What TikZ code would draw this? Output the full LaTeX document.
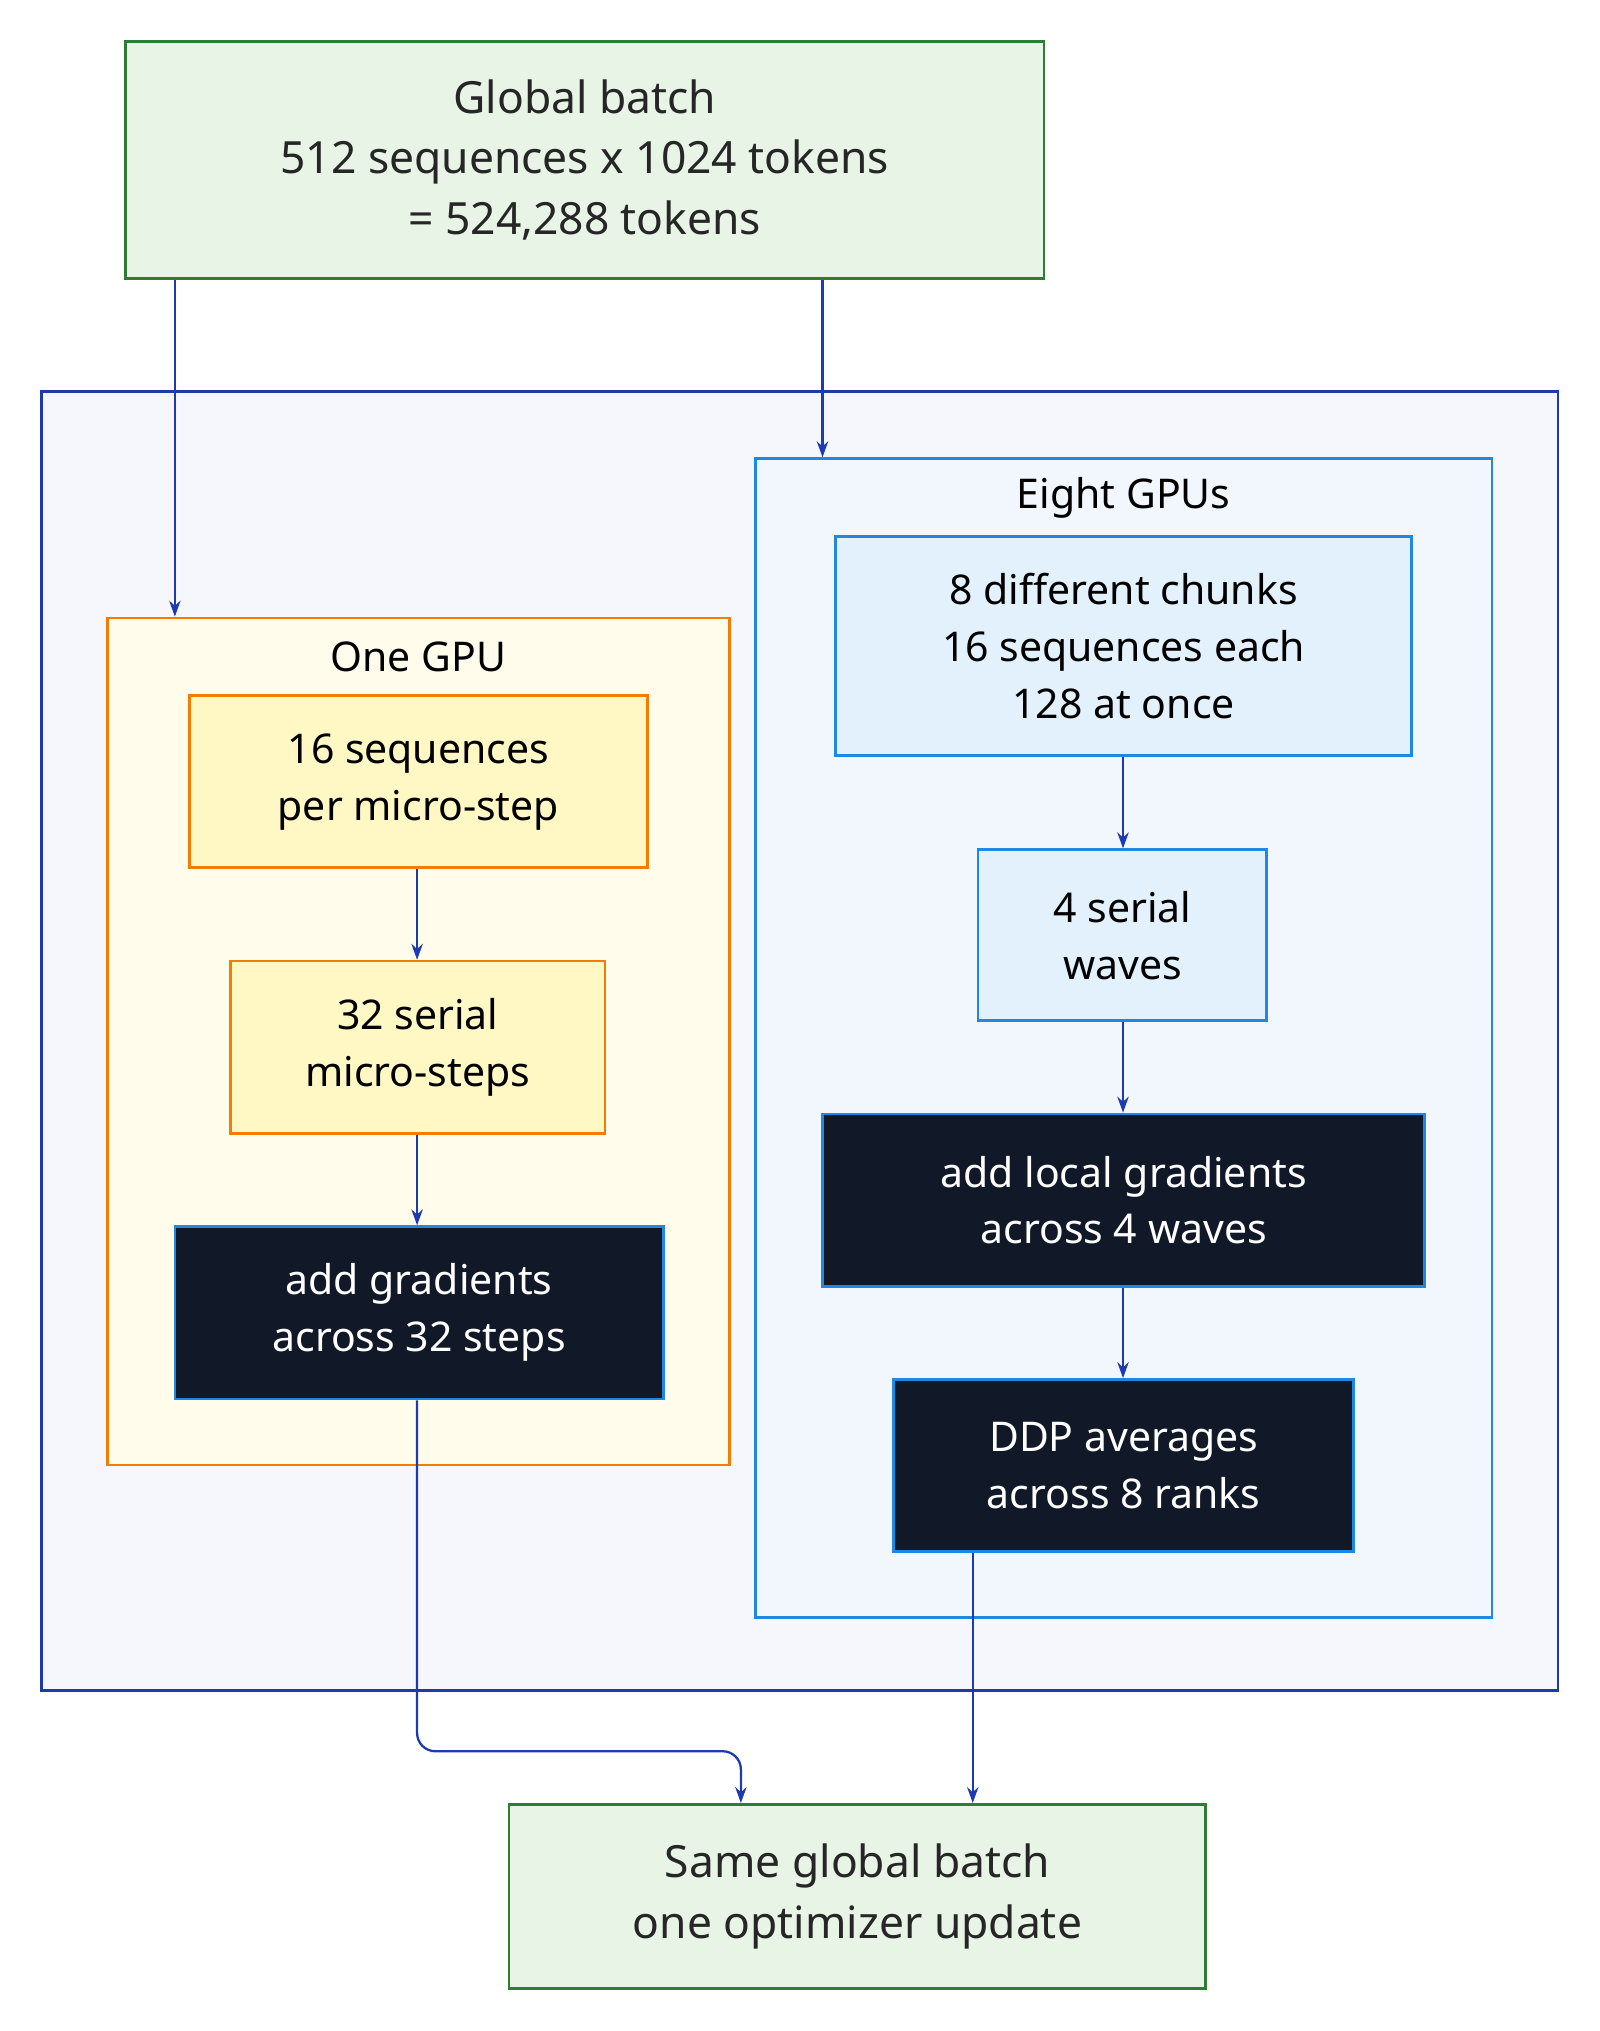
\documentclass[tikz,border=0pt]{standalone}
\usepackage{fontspec}
\setmainfont{Noto Sans}
\usetikzlibrary{arrows.meta}
\definecolor{gfill}{HTML}{E7F4E6}\definecolor{gline}{HTML}{2E7D32}
\definecolor{ofill}{HTML}{F5F7FC}\definecolor{oline}{HTML}{1E3AA8}
\definecolor{yfill}{HTML}{FFFCEC}\definecolor{yline}{HTML}{F57C00}
\definecolor{ybox}{HTML}{FFF8C4}
\definecolor{bfill}{HTML}{F2F7FD}\definecolor{bline}{HTML}{1E88E5}
\definecolor{bbox}{HTML}{E3F1FC}
\definecolor{dark}{HTML}{111827}
\definecolor{arrc}{HTML}{1E3AB0}
\tikzset{
 bx/.style={draw, line width=1.2pt, inner sep=0pt, align=center, font=\fontsize{18}{25}\selectfont},
 gbox/.style={bx, fill=gfill, draw=gline, text=black!85, font=\fontsize{19.5}{26.5}\selectfont},
 ybx/.style={bx, fill=ybox, draw=yline},
 lbx/.style={bx, fill=bbox, draw=bline},
 dbx/.style={bx, fill=dark, draw=bline, text=white},
 arr/.style={draw=arrc, line width=1pt, -{Stealth[length=7pt,width=5pt]}},
 ttl/.style={font=\fontsize{18}{22}\selectfont}
}
\begin{document}
\begin{tikzpicture}[x=0.02cm,y=-0.02cm]
\useasboundingbox (0,0) rectangle (1235,1568);
\node[draw=oline, fill=ofill, line width=1.2pt, minimum width=23.42cm, minimum height=20.06cm] (outer) at (617.5,803.5) {};
\node[draw=yline, fill=yfill, line width=1.2pt, minimum width=9.6cm, minimum height=13.08cm] (one) at (323,804) {};
\node[draw=bline, fill=bfill, line width=1.2pt, minimum width=11.38cm, minimum height=17.9cm] (eight) at (867.5,801.5) {};
\node[ttl] (onet) at (323,507) {One GPU};
\node[ttl] (eightt) at (867.5,384) {Eight GPUs};
\node[gbox, minimum width=14.18cm, minimum height=3.66cm] (top) at (451.5,123.5) {Global batch\\512 sequences x 1024 tokens\\= 524,288 tokens};
\node[ybx, minimum width=7.08cm, minimum height=2.66cm] (y1) at (323,603.5) {16 sequences\\per micro-step};
\node[ybx, minimum width=5.78cm, minimum height=2.66cm] (y2) at (322.5,808.5) {32 serial\\micro-steps};
\node[dbx, minimum width=7.54cm, minimum height=2.66cm] (d3) at (323.5,1013.5) {add gradients\\across 32 steps};
\node[lbx, minimum width=8.9cm, minimum height=3.38cm] (lb) at (867.5,498.5) {8 different chunks\\16 sequences each\\128 at once};
\node[lbx, minimum width=4.46cm, minimum height=2.64cm] (w4) at (866.5,722) {4 serial\\waves};
\node[dbx, minimum width=9.3cm, minimum height=2.66cm] (dk) at (867.5,926.5) {add local gradients\\across 4 waves};
\node[dbx, minimum width=7.1cm, minimum height=2.66cm] (ddp) at (867.5,1131.5) {DDP averages\\across 8 ranks};
\node[gbox, minimum width=10.76cm, minimum height=2.84cm] (bot) at (662,1464) {Same global batch\\one optimizer update};
\draw[arr] (top.south -| 135,0) -- (one.north -| 135,0);
\draw[arr] (top.south -| 635,0) -- (eight.north -| 635,0);
\draw[arr] (y1.south -| 322,0) -- (y2.north -| 322,0);
\draw[arr] (y2.south -| 322,0) -- (d3.north -| 322,0);
\draw[arr] (lb.south -| 867,0) -- (w4.north -| 867,0);
\draw[arr] (w4.south -| 867,0) -- (dk.north -| 867,0);
\draw[arr] (dk.south -| 867,0) -- (ddp.north -| 867,0);
\coordinate (e1) at (322,1352);
\coordinate (e2) at (572,1352);
\draw[arr, rounded corners=8pt] (d3.south -| 322,0) -- (e1) -- (e2) -- (bot.north -| 572,0);
\draw[arr] (ddp.south -| 751,0) -- (bot.north -| 751,0);
\end{tikzpicture}
\end{document}
